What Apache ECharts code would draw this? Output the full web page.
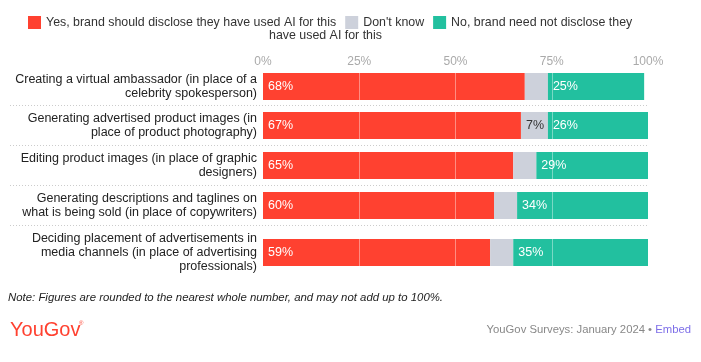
<!DOCTYPE html>
<html>
<head>
<meta charset="utf-8">
<script src="https://cdn.jsdelivr.net/npm/echarts@6/dist/echarts.min.js"></script>
<style>
html,body{margin:0;padding:0;background:#fff;}
#chart{width:701px;height:362px;}
</style>
</head>
<body>
<div id="chart"></div>
<script>
const categories = [
  "Creating a virtual ambassador (in place of a\ncelebrity spokesperson)",
  "Generating advertised product images (in\nplace of product photography)",
  "Editing product images (in place of graphic\ndesigners)",
  "Generating descriptions and taglines on\nwhat is being sold (in place of copywriters)",
  "Deciding placement of advertisements in\nmedia channels (in place of advertising\nprofessionals)"
];
const seriesNames = [
  "Yes, brand should disclose they have used AI for this",
  "Don't know",
  "No, brand need not disclose they have used AI for this"
];
const yesValues = [68, 67, 65, 60, 59];
const dontKnowValues = [6, 7, 6, 6, 6];
const noValues = [25, 26, 29, 34, 35];
const xTickValues = [0, 25, 50, 75, 100];

const colors = ["#ff4130", "#cdd1db", "#22c09f"];
const rowTops = [73, 112, 152, 192, 239];
const barH = 27;
const gridLeft = 263, gridRight = 701 - 648;
const FONT = "Liberation Sans";

const allValues = [yesValues, dontKnowValues, noValues];
const grids = [], xAxes = [], yAxes = [], series = [];

categories.forEach((cat, i) => {
  grids.push({ left: gridLeft, right: gridRight, top: rowTops[i], height: barH });
  xAxes.push({
    gridIndex: i, type: 'value', min: xTickValues[0], max: xTickValues[xTickValues.length - 1],
    interval: 25, position: 'top',
    axisLine: { show: false }, axisTick: { show: false }, splitLine: { show: false },
    axisLabel: {
      show: i === 0, formatter: '{value}%', color: '#aaaaaa', fontSize: 12,
      fontFamily: FONT, margin: 5
    }
  });
  yAxes.push({
    gridIndex: i, type: 'category', data: [cat], inverse: true,
    axisLine: { show: false }, axisTick: { show: false },
    axisLabel: { color: '#222', fontSize: 12.5, lineHeight: 14, fontFamily: FONT, margin: 6, align: 'right' }
  });
  allValues.forEach((vals, s) => {
    const ser = {
      name: seriesNames[s], type: 'bar', stack: 'row' + i,
      xAxisIndex: i, yAxisIndex: i, barWidth: '100%',
      itemStyle: { color: colors[s] },
      data: [vals[i]],
      label: {
        show: true, position: 'insideLeft', distance: 5,
        color: s === 1 ? '#333' : '#fff', fontSize: 12.5, fontFamily: FONT,
        formatter: p => (p.value >= 7 ? p.value + '%' : '')
      },
      silent: true
    };
    if (s === 2) {
      ser.markLine = {
        silent: true, symbol: 'none', z: 10,
        label: { show: false },
        lineStyle: { color: 'rgba(255,255,255,0.4)', type: 'solid', width: 1 },
        data: xTickValues.slice(1, -1).map(v => ({ xAxis: v }))
      };
    }
    series.push(ser);
  });
});

const separators = [105.5, 145.5, 185.5, 225.5].map(y => ({
  type: 'line', shape: { x1: 10, y1: y, x2: 648, y2: y },
  style: { stroke: '#cccccc', lineWidth: 1, lineDash: [1, 2] }, silent: true
}));

const chart = echarts.init(document.getElementById('chart'), null, { renderer: 'canvas' });
chart.setOption({
  animation: false,
  legend: {
    top: 11, left: 23, itemWidth: 13, itemHeight: 13, itemGap: 9, icon: 'rect',
    data: seriesNames,
    textStyle: { color: '#333', fontSize: 12.4, fontFamily: FONT },
    formatter: n => n === seriesNames[2] ? 'No, brand need not disclose they' : n
  },
  grid: grids, xAxis: xAxes, yAxis: yAxes, series: series,
  graphic: separators.concat([
    { type: 'text', left: 326 - 57, top: 30,
      style: { text: 'have used AI for this', fill: '#333', font: '12.4px "' + FONT + '"' } },
    { type: 'text', left: 8, top: 292,
      style: { text: 'Note: Figures are rounded to the nearest whole number, and may not add up to 100%.',
        fill: '#222', font: 'italic 11.4px "' + FONT + '"' } },
    { type: 'text', left: 10, top: 320,
      style: { text: 'YouGov', fill: '#ff4130', font: '20px "' + FONT + '"' } },
    { type: 'text', left: 79, top: 320,
      style: { text: '®', fill: '#ff4130', font: '6px "' + FONT + '"' } },
    { type: 'text', right: 10, top: 324,
      style: { rich: { a: { fill: '#888', fontSize: 11.3, fontFamily: FONT }, b: { fill: '#7d6ee8', fontSize: 11.3, fontFamily: FONT } },
        text: '{a|YouGov Surveys: January 2024 • }{b|Embed}' } }
  ])
});
</script>
</body>
</html>
